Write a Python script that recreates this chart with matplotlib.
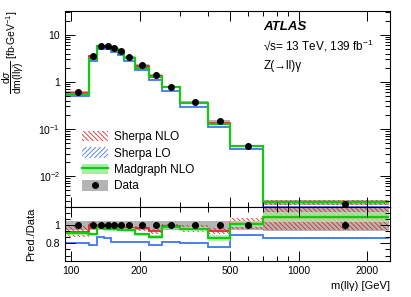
import numpy as np
import matplotlib
matplotlib.use('Agg')
import matplotlib.pyplot as plt
from matplotlib.patches import Patch
from matplotlib.lines import Line2D
from matplotlib.ticker import FixedLocator, FixedFormatter, LogLocator, NullFormatter, AutoMinorLocator

plt.rcParams['font.family'] = ['Liberation Sans', 'DejaVu Sans']
plt.rcParams['mathtext.fontset'] = 'custom'
plt.rcParams['mathtext.rm'] = 'Liberation Sans'
plt.rcParams['mathtext.it'] = 'Liberation Sans:italic'
plt.rcParams['mathtext.bf'] = 'Liberation Sans:bold'
plt.rcParams['hatch.linewidth'] = 0.6

# m(llg) bin edges [GeV]
edges = [95, 120, 130, 140, 150, 160, 170, 190, 220, 250, 300, 400, 500, 700, 2500]

# measured cross section [fb/GeV] and uncertainties (relative)
data = [0.62, 3.48, 5.9, 5.7, 5.2, 4.45, 3.38, 2.23, 1.43, 0.79, 0.367, 0.146, 0.043, 0.0026]
data_stat = [0.01, 0.01, 0.01, 0.01, 0.01, 0.01, 0.01, 0.01, 0.01, 0.01, 0.012, 0.015, 0.02, 0.04]
data_tot_lo = [0.05, 0.05, 0.05, 0.05, 0.05, 0.05, 0.05, 0.05, 0.05, 0.05, 0.05, 0.05, 0.05, 0.06]
data_tot_hi = [0.05, 0.05, 0.05, 0.05, 0.05, 0.05, 0.05, 0.05, 0.05, 0.05, 0.05, 0.05, 0.05, 0.20]

# predictions / data
nlo_ratio = [0.93, 1.0, 0.985, 0.985, 0.975, 0.975, 0.965, 0.965, 0.935, 0.985, 0.96, 0.935, 1.02, 1.08]
nlo_unc = [0.06, 0.04, 0.03, 0.03, 0.03, 0.03, 0.03, 0.03, 0.03, 0.03, 0.04, 0.04, 0.06, 0.12]
lo_ratio = [0.80, 0.78, 0.865, 0.855, 0.82, 0.82, 0.81, 0.82, 0.78, 0.82, 0.80, 0.76, 0.89, 0.86]
lo_unc = [0.008, 0.008, 0.008, 0.008, 0.008, 0.008, 0.008, 0.008, 0.008, 0.008, 0.008, 0.008, 0.008, 0.008]
mg_ratio = [0.91, 0.90, 0.975, 0.96, 0.955, 0.95, 0.945, 0.90, 0.87, 0.975, 0.955, 0.86, 1.01, 1.09]
mg_unc = [0.02, 0.02, 0.02, 0.02, 0.02, 0.02, 0.02, 0.02, 0.02, 0.02, 0.02, 0.04, 0.03, 0.05]

edges = np.array(edges)
data = np.array(data)
centers = 0.5 * (edges[1:] + edges[:-1])

red = '#dd2a2a'
blue = '#3f78f0'
green = '#14c814'
lightgreen = '#a6eea6'
gray = '#b4b4b4'
red_hatch = '\\' * 7
blue_hatch = '/' * 7

fig = plt.figure(figsize=(4.11, 2.97), dpi=100)
ax = fig.add_axes([0.158, 0.303, 0.791, 0.660])
rax = fig.add_axes([0.158, 0.122, 0.791, 0.180], sharex=ax)


def draw(a, scale):
    s = np.asarray(scale)
    dlo = np.array(data_tot_lo)
    dhi = np.array(data_tot_hi)
    a.stairs(s * (1 + dhi), edges, baseline=s * (1 - dlo), fill=True, color=gray, lw=0)
    for r, u, col, hatch in [(nlo_ratio, nlo_unc, red, red_hatch), (lo_ratio, lo_unc, blue, blue_hatch)]:
        r = np.array(r) * s
        u = np.array(u)
        a.stairs(r * (1 + u), edges, baseline=r * (1 - u), fill=True,
                 facecolor='none', edgecolor=col, hatch=hatch, lw=0)
        a.stairs(r, edges, color=col, lw=1.3, baseline=None)
    r = np.array(mg_ratio) * s
    u = np.array(mg_unc)
    a.stairs(r * (1 + u), edges, baseline=r * (1 - u), fill=True, color=lightgreen, lw=0, alpha=0.8)
    a.stairs(r, edges, color=green, lw=1.6, baseline=None)


# main panel
draw(ax, data)
ax.errorbar(centers, data, yerr=data * np.array(data_stat), fmt='o', color='black', ms=4, lw=1, zorder=10)
ax.set_xscale('log')
ax.set_yscale('log')
ax.set_xlim(edges[0] - 1, edges[-1] + 20)
ax.set_ylim(0.0022, 32)
ax.yaxis.set_major_locator(FixedLocator([0.01, 0.1, 1, 10]))
ax.yaxis.set_major_formatter(FixedFormatter(['$10^{-2}$', '$10^{-1}$', '1', '10']))
ax.yaxis.set_minor_locator(LogLocator(base=10, subs=np.arange(2, 10)))
ax.yaxis.set_minor_formatter(NullFormatter())
ax.set_ylabel(r'$\dfrac{\mathrm{d}\sigma}{\mathrm{dm(ll}\gamma\mathrm{)}}$ [fb$\cdot$GeV$^{-1}$]',
              loc='top', fontsize=7.5)
plt.setp(ax.get_xticklabels(), visible=False)

ax.text(0.61, 0.918, 'ATLAS', transform=ax.transAxes, fontsize=9.5, fontweight='bold',
        style='italic', va='center')
ax.text(0.61, 0.82, '√s= 13 TeV, 139 fb$^{-1}$', transform=ax.transAxes, fontsize=8.5, va='center')
ax.text(0.61, 0.72, 'Z(→ll)γ', transform=ax.transAxes, fontsize=8.5, va='center')

handles = [
    Patch(facecolor='none', edgecolor=red, hatch=red_hatch, lw=0),
    Patch(facecolor='none', edgecolor=blue, hatch=blue_hatch, lw=0),
    (Patch(facecolor=lightgreen, lw=0), Line2D([], [], color=green, lw=1.6)),
    (Patch(facecolor=gray, lw=0), Line2D([], [], color='black', marker='o', ms=4, ls='none')),
]
labels = ['Sherpa NLO', 'Sherpa LO', 'Madgraph NLO', 'Data']
ax.legend(handles, labels, loc='lower left', bbox_to_anchor=(0.02, 0.02), frameon=False,
          fontsize=8.5, handlelength=2.2, handleheight=1.0, labelspacing=0.35, handletextpad=0.5)

# ratio panel
draw(rax, np.ones(len(data)))
rax.errorbar(centers, np.ones(len(data)), yerr=data_stat, fmt='o', color='black', ms=4, lw=1, zorder=10)
rax.set_ylim(0.61, 1.195)
rax.yaxis.set_major_locator(FixedLocator([0.8, 1.0]))
rax.yaxis.set_major_formatter(FixedFormatter(['0.8', '1']))
rax.yaxis.set_minor_locator(AutoMinorLocator(3))
rax.set_ylabel('Pred./Data', fontsize=8)
rax.xaxis.set_major_locator(FixedLocator([100, 200, 500, 1000, 2000]))
rax.xaxis.set_major_formatter(FixedFormatter(['100', '200', '500', '1000', '2000']))
rax.xaxis.set_minor_locator(LogLocator(base=10, subs=np.arange(2, 10)))
rax.xaxis.set_minor_formatter(NullFormatter())
rax.set_xlabel('m(llγ) [GeV]', loc='right', fontsize=8)

for a in (ax, rax):
    a.tick_params(which='both', direction='in', top=True, right=True, labelsize=7.5)
    a.tick_params(which='major', length=7, width=0.7)
    a.tick_params(which='minor', length=3.5, width=0.7)
    for sp in a.spines.values():
        sp.set_linewidth(0.8)
ax.yaxis.set_label_coords(-0.12, 1.0)
rax.yaxis.set_label_coords(-0.09, 0.5)

fig.savefig('out.png', dpi=100)
